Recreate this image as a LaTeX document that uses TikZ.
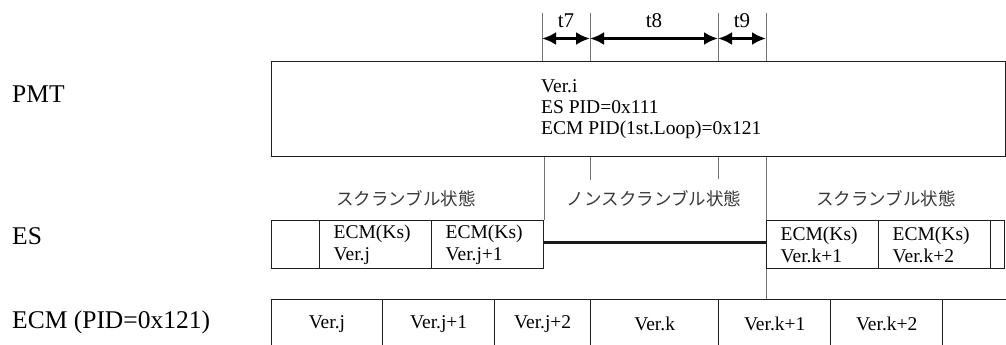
\documentclass[tikz,border=0pt]{standalone}
\usepackage{fontspec}
\setmainfont{Liberation Serif}
\newfontfamily\jp{Noto Sans CJK JP}
\usetikzlibrary{arrows.meta}
\begin{document}
\begin{tikzpicture}[x=1pt,y=-1pt,
  box/.style={draw=black!88, line width=1.4pt, rectangle, inner sep=0pt, anchor=north west, font=\fontsize{19.5}{22}\selectfont},
  guide/.style={draw=black!55, line width=0.9pt},
  thickline/.style={draw=black!90, line width=2.8pt},
  dimarrow/.style={draw=black, line width=2.8pt, {Latex[length=14pt,width=13pt]}-{Latex[length=14pt,width=13pt]}},
  rowlabel/.style={anchor=west, inner sep=0pt, font=\fontsize{25.5}{28}\selectfont},
  tlabel/.style={inner sep=0pt, font=\fontsize{21}{24}\selectfont},
  jlabel/.style={inner sep=0pt, font=\jp\fontsize{17.5}{20}\selectfont, text=black!78},
  estxt/.style={text width=84pt, inner xsep=14pt, align=left},
]
\useasboundingbox (0,0) rectangle (1006,345);

% row labels
\node[rowlabel] (lpmt) at (12,94.5) {PMT};
\node[rowlabel] (les) at (12,236.5) {ES};
\node[rowlabel] (lecm) at (12,322) {ECM (PID=0x121)};

% PMT box
\node[box, minimum width=734pt, minimum height=95pt] (pmt) at (270.5,61) {};
\node[anchor=west, inner sep=0pt, align=left, font=\fontsize{19.5}{21}\selectfont] (pmttxt) at (541,109)
  {Ver.i\\ES PID=0x111\\ECM PID(1st.Loop)=0x121};

% top guide lines
\coordinate (g1) at (542,13);
\coordinate (g2) at (590,13);
\coordinate (g3) at (718,13);
\coordinate (g4) at (766,13);
\foreach \g in {g1,g2,g3,g4} {\draw[guide] (\g) -- (\g |- pmt.north);}

% dimension arrows
\coordinate (a1) at (542,38.5);
\coordinate (a2) at (590,38.5);
\coordinate (a3) at (718,38.5);
\coordinate (a4) at (766,38.5);
\draw[dimarrow] (a1) -- (a2);
\draw[dimarrow] (a2) -- (a3);
\draw[dimarrow] (a3) -- (a4);
\node[tlabel] (t7) at (566,21) {t7};
\node[tlabel] (t8) at (654,21) {t8};
\node[tlabel] (t9) at (742,21) {t9};

% ES row
\node[box, minimum width=48.5pt, minimum height=48pt] (es0) at (270.5,220) {};
\node[box, minimum width=112pt, minimum height=48pt, estxt] (es1) at (319,220) {ECM(Ks)\\Ver.j};
\node[box, minimum width=111pt, minimum height=48pt, estxt] (es2) at (431,220) {ECM(Ks)\\Ver.j+1};
\node[box, minimum width=112pt, minimum height=48pt, estxt] (es3) at (766,220) {ECM(Ks)\\Ver.k+1};
\node[box, minimum width=112pt, minimum height=48pt, estxt] (es4) at (878,220) {ECM(Ks)\\Ver.k+2};
\node[box, minimum width=14pt, minimum height=48pt] (es5) at (990,220) {};
\draw[thickline] ([yshift=2pt]es2.east) -- ([yshift=2pt]es3.west);

% state labels
\node[jlabel] (s1) at (406,199) {スクランブル状態};
\node[jlabel] (s2) at (654,199) {ノンスクランブル状態};
\node[jlabel] (s3) at (886,199) {スクランブル状態};

% ECM row
\node[box, minimum width=111.5pt, minimum height=48pt] (ecm1) at (270.5,299) {Ver.j};
\node[box, minimum width=112pt, minimum height=48pt] (ecm2) at (382,299) {Ver.j+1};
\node[box, minimum width=96pt, minimum height=48pt] (ecm3) at (494,299) {Ver.j+2};
\node[box, minimum width=128pt, minimum height=48pt] (ecm4) at (590,299) {Ver.k};
\node[box, minimum width=112pt, minimum height=48pt] (ecm5) at (718,299) {Ver.k+1};
\node[box, minimum width=112pt, minimum height=48pt] (ecm6) at (830,299) {Ver.k+2};
\node[box, minimum width=80pt, minimum height=48pt] (ecm7) at (942,299) {};

% lower guide lines
\draw[guide] (pmt.south -| es2.north east) -- (es2.north east);
\draw[guide] (pmt.south -| ecm4.north west) -- ++(0,23);
\draw[guide] (pmt.south -| ecm5.north west) -- ++(0,22);
\draw[guide] (pmt.south -| es3.north west) -- (es3.north west);
\draw[guide] (es3.south west) -- (es3.south west |- ecm5.north);
\end{tikzpicture}
\end{document}
